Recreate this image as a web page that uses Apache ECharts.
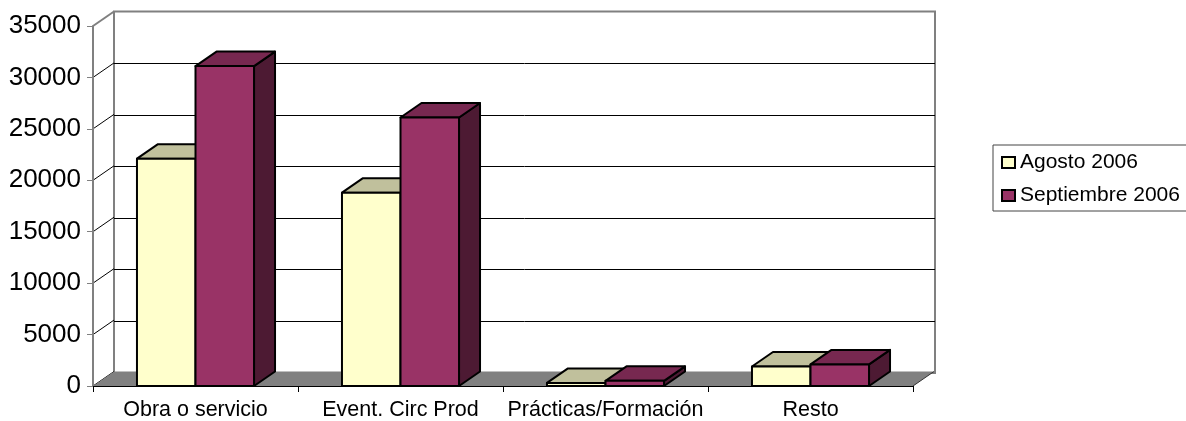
<!DOCTYPE html>
<html>
<head>
<meta charset="utf-8">
<script src="https://cdn.jsdelivr.net/npm/echarts@6/dist/echarts.min.js"></script>
<style>
  html, body { margin: 0; padding: 0; background: #fff; }
  #chart { width: 1186px; height: 421px; }
</style>
</head>
<body>
<div id="chart"></div>
<script>
// Contract types, two months compared
const categories = ['Obra o servicio', 'Event. Circ Prod', 'Prácticas/Formación', 'Resto'];
const seriesNames = ['Agosto 2006', 'Septiembre 2006'];
const agosto = [22100, 18800, 300, 1900];
const septiembre = [31100, 26100, 500, 2100];
const yTicks = [0, 5000, 10000, 15000, 20000, 25000, 30000, 35000];

// Layout of the pseudo-3D box: front plane grid and the depth offset to the back wall
const FRONT = { left: 93, top: 26, width: 820, height: 361.5 };
const DX = 21, DY = -14.5;
const BAR_FRACTION = 0.2855;          // bar width as a share of the category band
const FONT = "'Liberation Sans', Arial, sans-serif";

const faceColors = [
  { front: '#FFFFCC', top: '#C0C09C', side: '#80806A' },
  { front: '#993366', top: '#772850', side: '#4D1A33' }
];

const yMin = yTicks[0], yMax = yTicks[yTicks.length - 1], yStep = yTicks[1] - yTicks[0];

// A column drawn as a box: right side, top, then the front face
function boxRenderer(seriesIdx) {
  return function (params, api) {
    const cat = api.value(0), val = api.value(1);
    const base = api.coord([cat, 0]);
    const top = api.coord([cat, val]);
    const bw = api.size([1, 0])[0] * BAR_FRACTION;
    const x0 = base[0] + (seriesIdx === 0 ? -bw : 0);
    const x1 = x0 + bw, yt = top[1], yb = base[1];
    const c = faceColors[seriesIdx];
    const st = (fill) => ({ fill: fill, stroke: '#000', lineWidth: 2, lineJoin: 'round' });
    return {
      type: 'group',
      children: [
        { type: 'polygon', shape: { points: [[x1, yb], [x1, yt], [x1 + DX, yt + DY], [x1 + DX, yb + DY]] }, style: st(c.side) },
        { type: 'polygon', shape: { points: [[x0, yt], [x1, yt], [x1 + DX, yt + DY], [x0 + DX, yt + DY]] }, style: st(c.top) },
        { type: 'rect', shape: { x: x0, y: yt, width: bw, height: yb - yt }, style: st(c.front) }
      ]
    };
  };
}

// Left side wall: lines joining each front tick to the back wall
function sideWallRenderer(params, api) {
  const v = api.value(1);
  const y = api.coord([0, v])[1];
  const x = params.coordSys.x;
  const isTop = v === yMax;
  return {
    type: 'line',
    shape: { x1: x, y1: y, x2: x + DX, y2: y + DY },
    style: { stroke: isTop ? '#808080' : '#000', lineWidth: isTop ? 2 : 1 }
  };
}

// Floor of the box
function floorRenderer(params, api) {
  const cs = params.coordSys;
  const yb = api.coord([0, 0])[1];
  const xl = cs.x, xr = cs.x + cs.width;
  return {
    type: 'group',
    children: [
      { type: 'polygon', shape: { points: [[xl, yb], [xr, yb], [xr + DX, yb + DY], [xl + DX, yb + DY]] },
        style: { fill: '#808080' } },
      { type: 'line', shape: { x1: xr, y1: yb, x2: xr + DX, y2: yb + DY },
        style: { stroke: '#333', lineWidth: 1 } }
    ]
  };
}

const chart = echarts.init(document.getElementById('chart'), null, { renderer: 'canvas' });

chart.setOption({
  animation: false,
  backgroundColor: '#fff',
  textStyle: { fontFamily: FONT, color: '#000' },
  grid: [
    { left: FRONT.left, top: FRONT.top, width: FRONT.width, height: FRONT.height },
    { left: FRONT.left + DX, top: FRONT.top + DY, width: FRONT.width + 1, height: FRONT.height,
      show: true, borderColor: '#808080', borderWidth: 2, backgroundColor: 'transparent' }
  ],
  legend: {
    orient: 'vertical',
    left: 993, top: 145,
    padding: [7, 8, 5, 8],
    itemGap: 12,
    itemWidth: 13, itemHeight: 11,
    borderColor: '#444', borderWidth: 1,
    textStyle: { fontFamily: FONT, fontSize: 21, color: '#000' },
    data: seriesNames.map((n, i) => ({
      name: n, icon: 'rect',
      itemStyle: { color: faceColors[i].front, borderColor: '#000', borderWidth: 2 }
    }))
  },
  xAxis: [
    { gridIndex: 0, type: 'category', data: categories, z: 10,
      axisLine: { lineStyle: { color: '#000', width: 1 } },
      axisTick: { show: true, length: 6, lineStyle: { color: '#000', width: 1 } },
      axisLabel: { fontFamily: FONT, fontSize: 21.5, color: '#000', margin: 13, interval: 0 },
      splitLine: { show: false } },
    { gridIndex: 1, type: 'category', data: categories, show: false }
  ],
  yAxis: [
    { gridIndex: 0, type: 'value', min: yMin, max: yMax, interval: yStep, z: 10,
      axisLine: { show: true, lineStyle: { color: '#808080', width: 2 } },
      axisTick: { show: true, length: 6, lineStyle: { color: '#808080', width: 1 } },
      axisLabel: { fontFamily: FONT, fontSize: 26, color: '#000', margin: 12, formatter: (v) => String(v) },
      splitLine: { show: false } },
    { gridIndex: 1, type: 'value', min: yMin, max: yMax, interval: yStep,
      axisLine: { show: false }, axisTick: { show: false }, axisLabel: { show: false },
      splitLine: { show: true, showMinLine: false, showMaxLine: false, lineStyle: { color: '#000', width: 1 } } }
  ],
  series: [
    { type: 'custom', name: 'sideWall', xAxisIndex: 0, yAxisIndex: 0, z: 1, silent: true,
      renderItem: sideWallRenderer, data: yTicks.map((v) => [0, v]), legendHoverLink: false },
    { type: 'custom', name: 'floor', xAxisIndex: 0, yAxisIndex: 0, z: 2, silent: true,
      renderItem: floorRenderer, data: [[0, 0]] },
    { type: 'custom', name: seriesNames[0], xAxisIndex: 0, yAxisIndex: 0, z: 3,
      itemStyle: { color: faceColors[0].front },
      renderItem: boxRenderer(0), data: agosto.map((v, i) => [i, v]) },
    { type: 'custom', name: seriesNames[1], xAxisIndex: 0, yAxisIndex: 0, z: 3,
      itemStyle: { color: faceColors[1].front },
      renderItem: boxRenderer(1), data: septiembre.map((v, i) => [i, v]) }
  ]
});
</script>
</body>
</html>
